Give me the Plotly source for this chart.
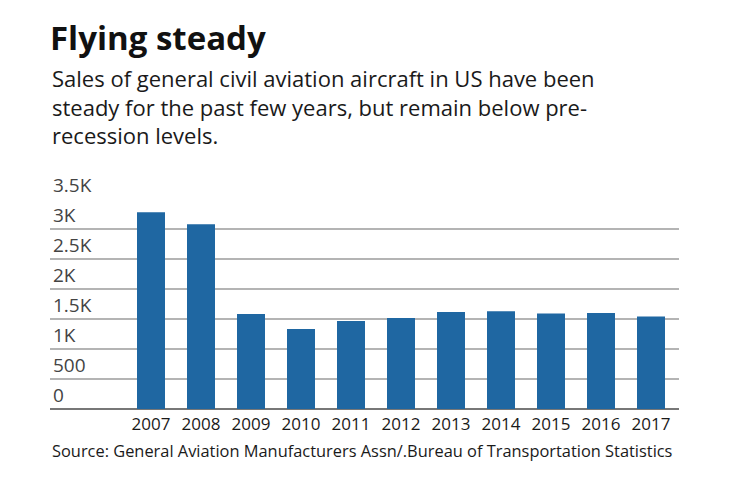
import plotly.graph_objects as go

# aircraft sales per year
years = ["2007", "2008", "2009", "2010", "2011", "2012",
         "2013", "2014", "2015", "2016", "2017"]
sales = [3279, 3079, 1585, 1334, 1465, 1518, 1615, 1631, 1592, 1600, 1540]

y_ticks = [0, 500, 1000, 1500, 2000, 2500, 3000, 3500]
y_labels = ["0", "500", "1K", "1.5K", "2K", "2.5K", "3K", "3.5K"]

subtitle = ["Sales of general civil aviation aircraft in US have been",
            "steady for the past few years, but remain below pre-",
            "recession levels."]

font = "Open Sans"
blue = "#1f67a2"

# page body has an 8px margin, so everything is offset by that
plot_bottom = 401
plot_h = 210


def py(y):
    return (plot_bottom - y) / plot_h


fig = go.Figure()
fig.add_trace(go.Bar(x=years, y=sales, marker_color=blue, marker_line_width=0,
                     hoverinfo="x+y"))

fig.update_layout(
    width=740, height=482,
    margin=dict(l=42, r=69, t=191, b=81),
    paper_bgcolor="white", plot_bgcolor="white",
    bargap=0.44,
    showlegend=False,
    font=dict(family=font, color="#1a1a1a"),
    title=dict(text="<b>Flying steady</b>", x=42 / 740, xanchor="left",
               y=1 - 30 / 482, yanchor="middle",
               font=dict(size=33, family=font, color="#111")),
)

fig.update_xaxes(type="category", range=[-2.02, 10.56], showgrid=False,
                 showline=False, ticks="", tickfont=dict(size=17),
                 ticklabelstandoff=3, fixedrange=True)
fig.update_yaxes(range=[0, 3500], tickvals=y_ticks, ticktext=y_labels,
                 ticklabelposition="inside top", ticklabeloverflow="allow",
                 showgrid=True, gridcolor="#b4b4b4", gridwidth=1.5,
                 zeroline=True, zerolinecolor="#777", zerolinewidth=1.5,
                 tickfont=dict(size=19), ticks="", fixedrange=True)

fig.add_annotation(
    text="<br>".join(subtitle), xref="paper", yref="paper", x=0, y=py(53),
    xanchor="left", yanchor="top", align="left", showarrow=False,
    font=dict(size=22, family=font, color="#1a1a1a"))

fig.add_annotation(
    text="Source: General Aviation Manufacturers Assn/.Bureau of Transportation Statistics",
    xref="paper", yref="paper", x=0, y=py(442),
    xanchor="left", yanchor="middle", align="left", showarrow=False,
    font=dict(size=16.4, family=font, color="#1a1a1a"))

fig.write_html("out.html", config={"displayModeBar": False})
